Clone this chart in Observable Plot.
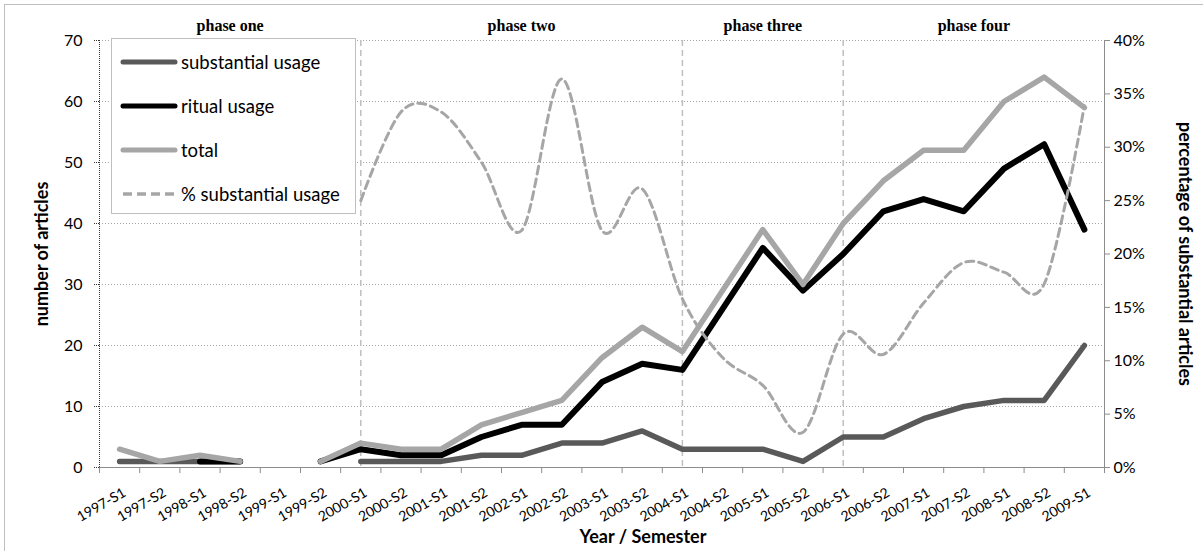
<!DOCTYPE html>
<html>
<head>
<meta charset="utf-8">
<script src="https://cdn.jsdelivr.net/npm/d3@7"></script>
<script src="https://cdn.jsdelivr.net/npm/@observablehq/plot@0.6"></script>
<style>
  html, body { margin: 0; padding: 0; background: #fff; overflow: hidden; }
  #wrap { position: relative; width: 1203px; height: 551px; }
  #border { position: absolute; left: 4px; top: 4px; width: 1215px; height: 565px; border: 1px solid #bfbfbf; pointer-events: none; }
  #legend { position: absolute; left: 111px; top: 38px; width: 243px; height: 174px; border: 1px solid #bfbfbf; background: #fff; font-family: Lato, sans-serif; font-size: 18.5px; color: #000; }
  .item { position: absolute; left: 0; height: 24px; display: flex; align-items: center; }
  .item svg { margin-left: 8px; margin-right: 3px; }
</style>
</head>
<body>
<div id="wrap"><div id="border"></div></div>
<script>
// ---- data ----
const categories = ["1997-S1","1997-S2","1998-S1","1998-S2","1999-S1","1999-S2","2000-S1","2000-S2","2001-S1","2001-S2","2002-S1","2002-S2","2003-S1","2003-S2","2004-S1","2004-S2","2005-S1","2005-S2","2006-S1","2006-S2","2007-S1","2007-S2","2008-S1","2008-S2","2009-S1"];
const substantial = [1,1,1,1,null,null,1,1,1,2,2,4,4,6,3,3,3,1,5,5,8,10,11,11,20];
const ritual = [null,null,1,1,null,1,3,2,2,5,7,7,14,17,16,26,36,29,35,42,44,42,49,53,39];
const total = [3,1,2,1,null,1,4,3,3,7,9,11,18,23,19,29,39,30,40,47,52,52,60,64,59];
const pctSubstantial = [null,null,null,null,null,null,25,33.3,33.3,28.6,22.2,36.4,22.2,26.1,15.8,10.3,7.7,3.3,12.5,10.6,15.4,19.2,18.3,17.2,33.9];

const seriesNames = ["substantial usage","ritual usage","total","% substantial usage"];
const seriesColors = ["#595959","#000000","#a6a6a6","#a6a6a6"];

const phaseNames = ["phase one","phase two","phase three","phase four"];
const phaseDividers = ["2000-S1","2004-S1","2006-S1"];

const yTicks = [0,10,20,30,40,50,60,70];
const pctTicks = [0,5,10,15,20,25,30,35,40];

const yLabel = "number of articles";
const y2Label = "percentage of substantial articles";
const xLabel = "Year / Semester";

// ---- derived ----
const yMax = 70, pctMax = 40, k = yMax / pctMax;
const n = categories.length;
const idx = c => categories.indexOf(c) + 0.5;
const rows = (arr) => categories.map((c, i) => ({c, i: i + 0.5, v: arr[i]}));
const edges = [0, ...phaseDividers.map(idx), n];
const phases = phaseNames.map((p, i) => ({p, x: (edges[i] + edges[i + 1]) / 2}));
const boundaries = d3.range(0, n + 1);

const lineOpts = (color, w) => ({
  x: "i", y: d => d.v == null ? NaN : d.v, stroke: color, strokeWidth: w,
  strokeLinecap: "round", strokeLinejoin: "round"
});

const chart = Plot.plot({
  width: 1203, height: 551,
  marginLeft: 99, marginRight: 99, marginTop: 40, marginBottom: 84,
  style: {fontFamily: "Lato, sans-serif", fontSize: "16px", color: "#000", background: "transparent", overflow: "visible"},
  x: {type: "linear", domain: [0, n]},
  y: {domain: [0, yMax]},
  marks: [
    // gridlines
    Plot.ruleY(yTicks.filter(d => d > 0), {stroke: "#a6a6a6", strokeWidth: 1, strokeDasharray: "1,2"}),
    // phase dividers
    Plot.ruleX(phaseDividers, {x: idx, stroke: "#bfbfbf", strokeWidth: 1.5, strokeDasharray: "6,4"}),
    // left axis
    Plot.ruleX([0], {stroke: "#333", strokeDasharray: "1,1"}),
    Plot.axisY({ticks: yTicks, tickSize: 5, tickPadding: 12, label: null, fontSize: 16, stroke: "#333", strokeDasharray: "1,1"}),
    // right axis
    Plot.ruleX([n], {stroke: "#8c8c8c"}),
    Plot.axisY({anchor: "right", ticks: pctTicks.map(p => p * k), tickFormat: d => Math.round(d / k) + "%", tickSize: 5, tickPadding: 4, label: null, fontSize: 16, stroke: "#8c8c8c"}),
    // bottom axis
    Plot.ruleY([0], {stroke: "#8c8c8c"}),
    Plot.axisX({ticks: boundaries, tickFormat: () => "", tickSize: 6, label: null, stroke: "#8c8c8c"}),
    Plot.text(categories, {x: (d, i) => i + 0.5, frameAnchor: "bottom", text: d => d, rotate: -30, textAnchor: "end", lineAnchor: "middle", dx: 5, dy: 24, fontSize: 14}),
    // series
    Plot.line(rows(substantial), lineOpts(seriesColors[0], 5.5)),
    Plot.line(rows(ritual), lineOpts(seriesColors[1], 6)),
    Plot.line(rows(total), lineOpts(seriesColors[2], 5.5)),
    Plot.line(rows(pctSubstantial), {x: "i", y: d => d.v == null ? NaN : d.v * k, stroke: seriesColors[3], strokeWidth: 3, strokeDasharray: "8,5", curve: "cardinal"}),
    // phase labels
    Plot.text(phases, {x: "x", text: "p", frameAnchor: "top", dy: -21, fontFamily: "Liberation Serif, serif", fontWeight: "bold", fontSize: 16}),
    // axis titles
    Plot.text([yLabel], {text: d => d, frameAnchor: "left", textAnchor: "middle", lineAnchor: "middle", dx: -57, rotate: -90, fontWeight: "bold", fontSize: 18}),
    Plot.text([y2Label], {text: d => d, frameAnchor: "right", textAnchor: "middle", lineAnchor: "middle", dx: 80, rotate: 90, fontWeight: "bold", fontSize: 18}),
    Plot.text([xLabel], {text: d => d, frameAnchor: "bottom", textAnchor: "middle", lineAnchor: "middle", dx: 41, dy: 70, fontWeight: "bold", fontSize: 18})
  ]
});

const wrap = document.getElementById("wrap");
wrap.insertBefore(chart, wrap.firstChild);

// legend
const legend = document.createElement("div");
legend.id = "legend";
seriesNames.forEach((name, i) => {
  const item = document.createElement("div");
  item.className = "item";
  item.style.top = (11 + i * 44) + "px";
  const dashed = i === 3;
  item.innerHTML = `<svg width="58" height="10"><line x1="3" y1="5" x2="55" y2="5" stroke="${seriesColors[i]}" stroke-width="${dashed ? 3.5 : 5}" stroke-linecap="${dashed ? "butt" : "round"}" ${dashed ? 'stroke-dasharray="9,5"' : ""}/></svg><span>${name}</span>`;
  legend.appendChild(item);
});
wrap.appendChild(legend);
</script>
</body>
</html>
